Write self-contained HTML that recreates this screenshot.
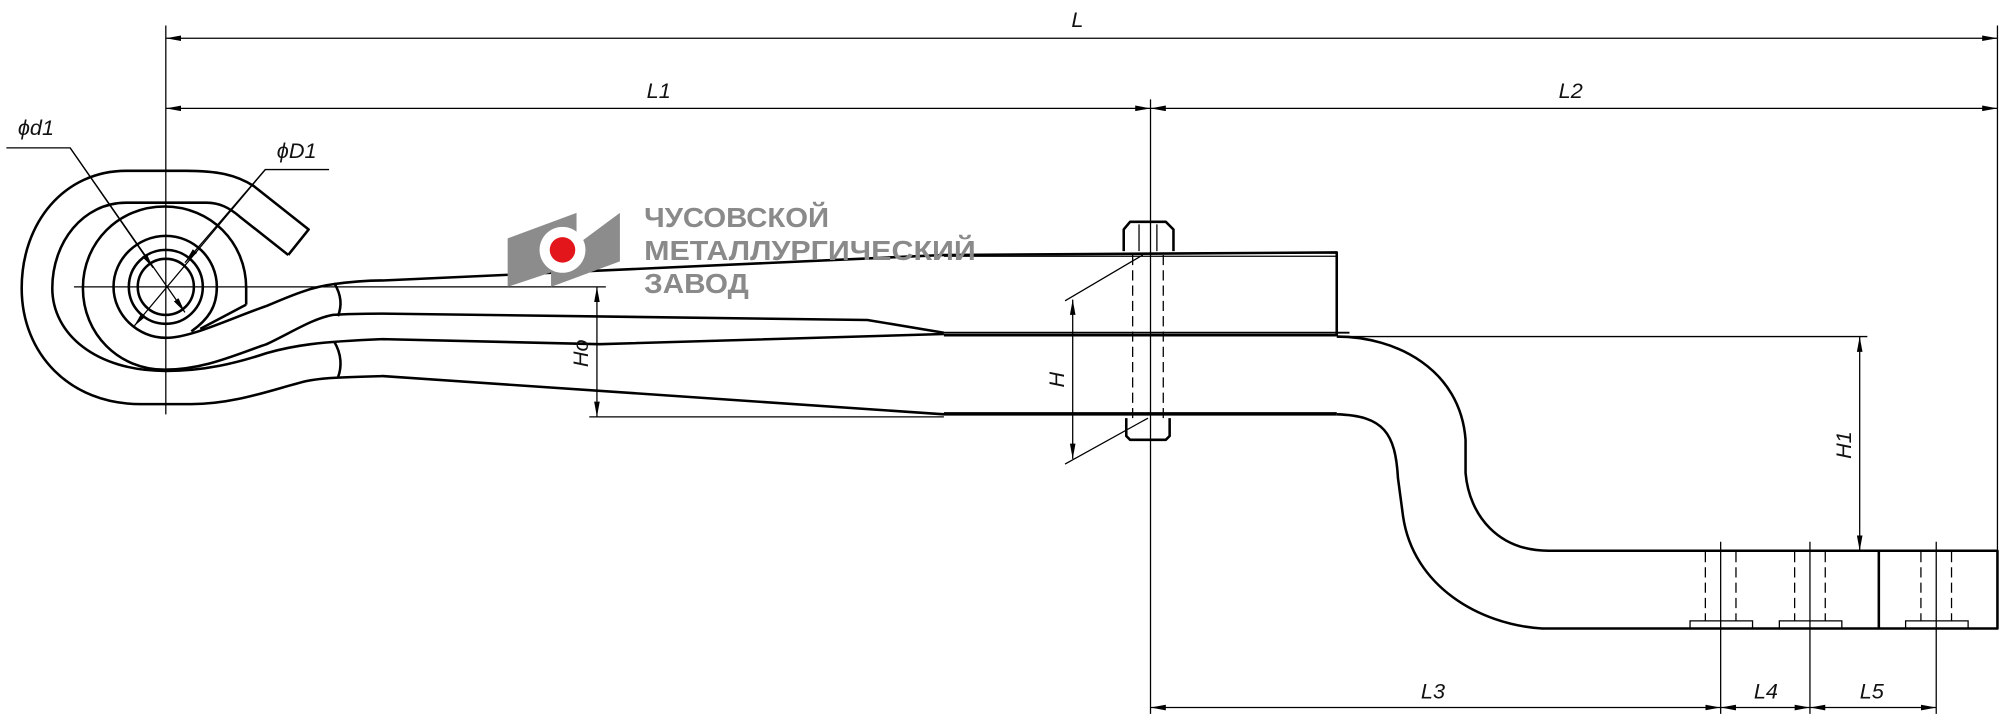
<!DOCTYPE html>
<html><head><meta charset="utf-8"><style>
html,body{margin:0;padding:0;background:#fff;}
svg{display:block}
text{font-family:"Liberation Sans","DejaVu Sans",sans-serif;}
.lbl{font-style:italic;font-size:17px;fill:#111;}
</style></head><body>
<svg width="2000" height="719" viewBox="0 0 1568 564" preserveAspectRatio="none" xmlns="http://www.w3.org/2000/svg">
<defs>
<marker id="a" viewBox="0 0 12 6" refX="12" refY="3" markerWidth="12" markerHeight="6" orient="auto-start-reverse" markerUnits="userSpaceOnUse"><path d="M0,0.8 L12,3 L0,5.2 z" fill="#000"/></marker>
</defs>
<g fill="none" stroke="#000" stroke-width="1">
<line x1="130" y1="20" x2="130" y2="325"/>
<line x1="902" y1="78" x2="902" y2="560"/>
<line x1="1566" y1="20" x2="1566" y2="432"/>
<line x1="130" y1="30" x2="1566" y2="30" marker-start="url(#a)" marker-end="url(#a)"/>
<line x1="130" y1="85" x2="902" y2="85" marker-start="url(#a)" marker-end="url(#a)"/>
<line x1="902" y1="85" x2="1566" y2="85" marker-start="url(#a)" marker-end="url(#a)"/>
<line x1="58" y1="225" x2="475" y2="225"/>
<polyline points="5,116 55,116 145,245" marker-end="url(#a)"/>
<line x1="55" y1="116" x2="120" y2="210" marker-end="url(#a)"/>
<polyline points="258,133 208,133 105,256" marker-end="url(#a)"/>
<line x1="208" y1="133" x2="145" y2="206" marker-end="url(#a)"/>
<line x1="468" y1="225" x2="468" y2="327" marker-start="url(#a)" marker-end="url(#a)"/>
<line x1="462" y1="327" x2="740" y2="327"/>
<line x1="841" y1="235" x2="841" y2="360" marker-start="url(#a)" marker-end="url(#a)"/>
<line x1="835" y1="236" x2="896" y2="200"/>
<line x1="835" y1="364" x2="900" y2="328"/>
<line x1="1049" y1="264" x2="1464" y2="264"/>
<line x1="1458" y1="264" x2="1458" y2="432" marker-start="url(#a)" marker-end="url(#a)"/>
<line x1="1349" y1="425" x2="1349" y2="560"/>
<line x1="1419" y1="425" x2="1419" y2="560"/>
<line x1="1518" y1="425" x2="1518" y2="560"/>
<line x1="902" y1="555" x2="1349" y2="555" marker-start="url(#a)" marker-end="url(#a)"/>
<line x1="1349" y1="555" x2="1419" y2="555" marker-start="url(#a)" marker-end="url(#a)"/>
<line x1="1419" y1="555" x2="1518" y2="555" marker-start="url(#a)" marker-end="url(#a)"/>
<g stroke-dasharray="8,4">
<line x1="888" y1="200" x2="888" y2="328"/><line x1="912" y1="200" x2="912" y2="328"/>
<line x1="1337" y1="433" x2="1337" y2="487"/><line x1="1361" y1="433" x2="1361" y2="487"/>
<line x1="1407" y1="433" x2="1407" y2="487"/><line x1="1431" y1="433" x2="1431" y2="487"/>
<line x1="1506" y1="433" x2="1506" y2="487"/><line x1="1530" y1="433" x2="1530" y2="487"/>
</g>
<polyline points="1325,493 1325,487 1374,487 1374,493"/>
<polyline points="1395,493 1395,487 1444,487 1444,493"/>
<polyline points="1494,493 1494,487 1543,487 1543,493"/>
</g>
<g fill="none" stroke="#000" stroke-width="2" stroke-linejoin="round">
<path d="M226,200 L242,180 L199,146 C185,137 170,134 146,134 L99,134 C50,134 17,175 17,226 C17,278 55,317 110,317 L150,317 C185,317 215,305 240,299 C250,297 258,296 300,295 L740,325 L1048,325"/>
<path d="M226,200 L188,170 C180,163 172,159 162,159 L99,159 C65,159 41,190 41,226 C41,262 75,291 130,291 C160,291 185,285 209,277 C230,271 250,268 300,266 L470,270 L740,262"/>
<path d="M193,239 L193,226 C193,190 165,162 129,162 C93,162 65,190 65,226 C65,262 93,290 129,290 C160,290 185,278 209,270 C230,260 245,250 261,247 C275,246 290,246 300,246 L680,251 L740,261"/>
<path d="M193,239 L157,258"/>
<path d="M130,265 C108,265 89,247 89,225 C89,203 108,185 130,185 C152,185 170,203 170,225 C170,240 164,250 150,260"/>
<path d="M130,265 C150,265 180,250 209,240 C230,231 245,225 261,223 C275,221 290,220 300,220 L740,200 L1048,198 L1048,263 L740,263"/>
<circle cx="130" cy="225" r="29"/>
<circle cx="130" cy="225" r="22"/>
<path d="M262,222 C268,232 268,240 265,248"/>
<path d="M262,268 C268,278 268,288 265,296"/>
<line x1="740" y1="201" x2="1048" y2="201" stroke-width="1"/>
<line x1="740" y1="261" x2="1058" y2="261" stroke-width="1.5"/>
<line x1="740" y1="324" x2="1048" y2="324" stroke-width="1.5"/>
<!-- bracket -->
<path d="M1048,264 C1095,264 1145,290 1149,345 L1149,371 C1152,405 1175,432 1214,432 L1566,432 L1566,493 L1209,493 C1160,490 1108,460 1100,405 L1096,375 C1094,340 1085,326 1048,325"/>
<line x1="1473" y1="432" x2="1473" y2="493"/>
<path d="M881,197 L881,180 L886,174 L914,174 L920,180 L920,197"/>
<line x1="893" y1="176" x2="893" y2="197" stroke-width="1"/>
<line x1="907" y1="176" x2="907" y2="197" stroke-width="1"/>
<path d="M883,328 L883,342 L886,345 L914,345 L917,342 L917,328"/>
</g>
<g>
<polygon points="398,187 452,167 452,207 398,225" fill="#8c8c8c"/>
<polygon points="432,207 486,167 486,205 432,225" fill="#8c8c8c"/>
<circle cx="441" cy="196" r="18" fill="#fff"/>
<circle cx="441" cy="196" r="10" fill="#e3161b"/>
<g fill="#8a8a8a" font-weight="bold" font-size="22">
<text x="505" y="178" textLength="145" lengthAdjust="spacingAndGlyphs">ЧУСОВСКОЙ</text>
<text x="505" y="204" textLength="260" lengthAdjust="spacingAndGlyphs">МЕТАЛЛУРГИЧЕСКИЙ</text>
<text x="505" y="230" textLength="82" lengthAdjust="spacingAndGlyphs">ЗАВОД</text>
</g>
</g>
<text class="lbl" x="840" y="21">L</text>
<text class="lbl" x="507" y="77">L1</text>
<text class="lbl" x="1222" y="77">L2</text>
<text class="lbl" x="14" y="106">ϕd1</text>
<text class="lbl" x="217" y="124">ϕD1</text>
<text class="lbl" x="1114" y="548">L3</text>
<text class="lbl" x="1375" y="548">L4</text>
<text class="lbl" x="1458" y="548">L5</text>
<text class="lbl" transform="translate(461,288) rotate(-90)">Ho</text>
<text class="lbl" transform="translate(834,304) rotate(-90)">H</text>
<text class="lbl" transform="translate(1451,360) rotate(-90)">H1</text>
</svg>
</body></html>
